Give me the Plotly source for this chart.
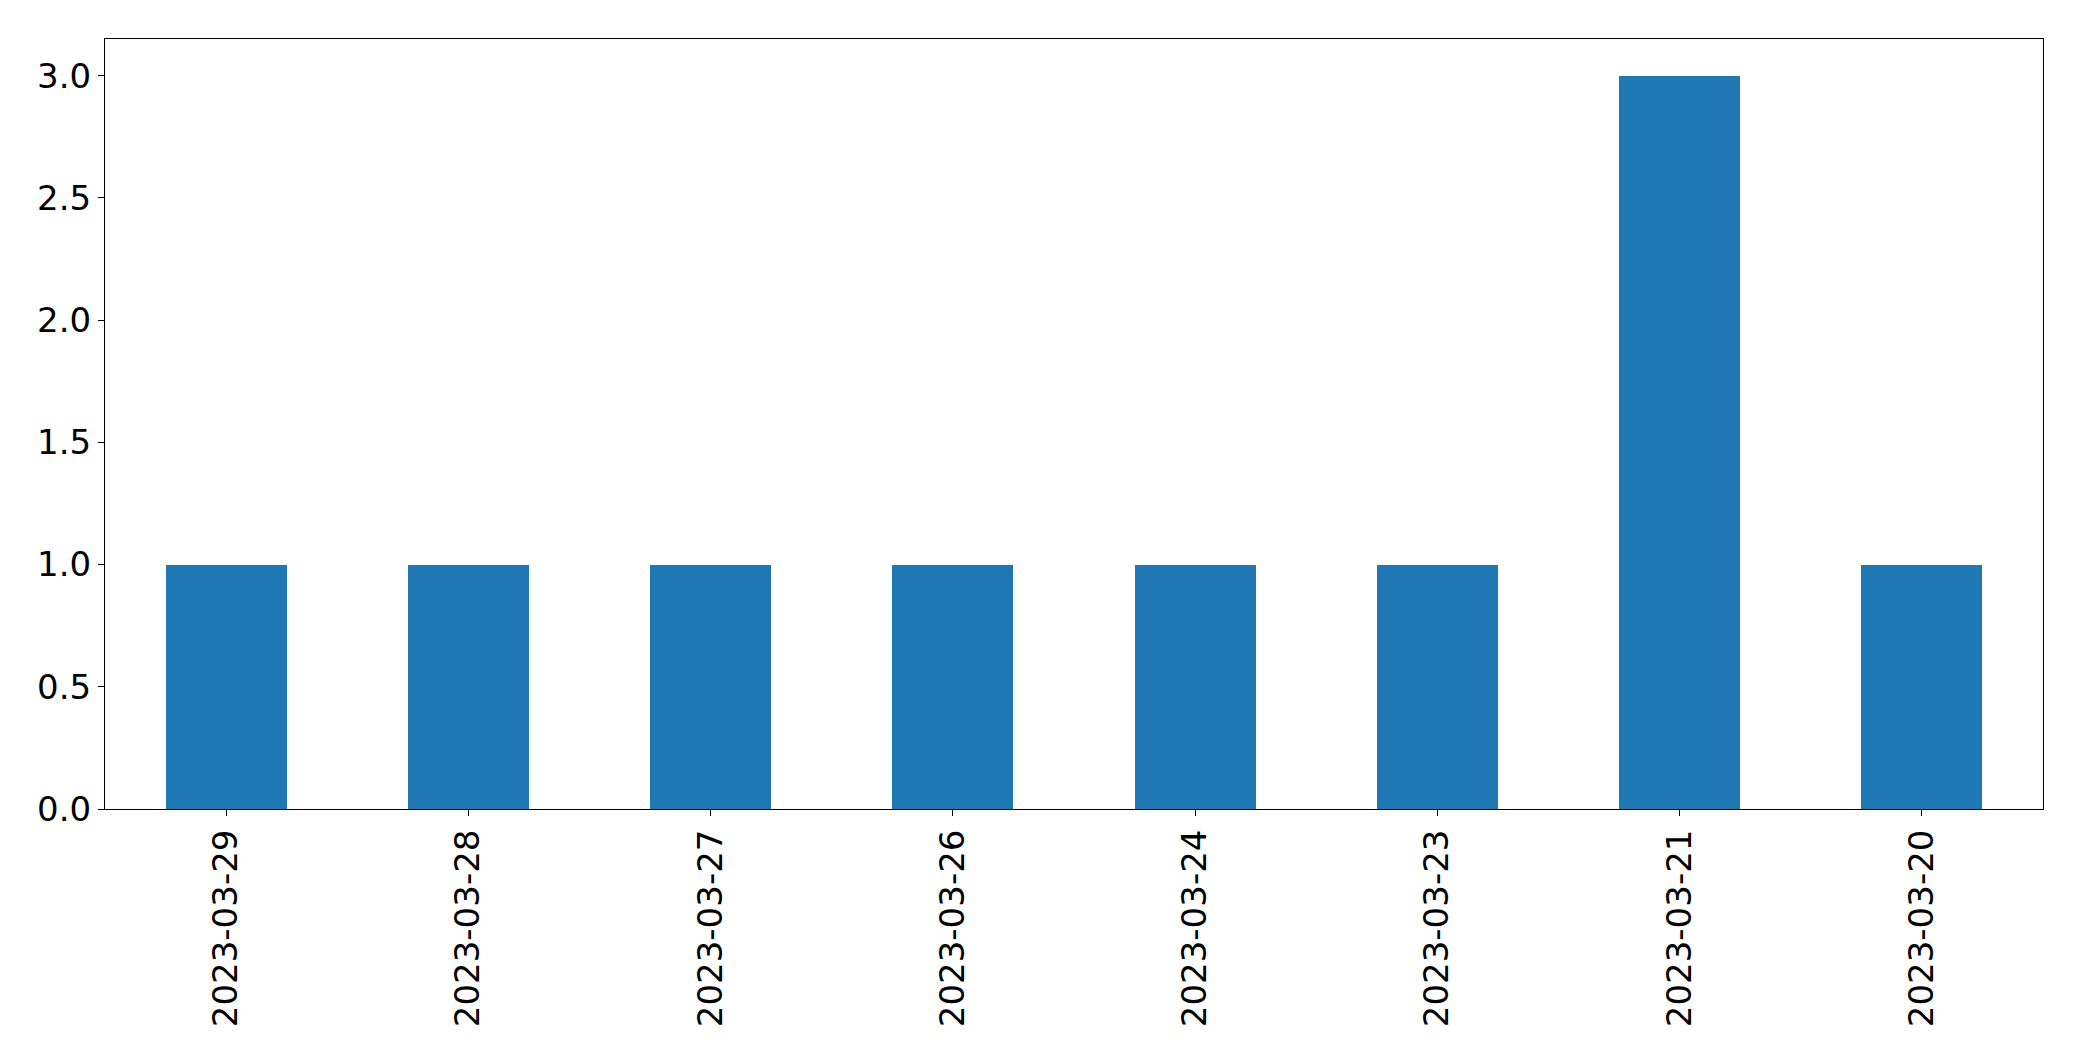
import plotly.graph_objects as go

dates = ["2023-03-29", "2023-03-28", "2023-03-27", "2023-03-26",
         "2023-03-24", "2023-03-23", "2023-03-21", "2023-03-20"]
counts = [1, 1, 1, 1, 1, 1, 3, 1]
y_ticks = [0.0, 0.5, 1.0, 1.5, 2.0, 2.5, 3.0]
y_tick_labels = ["0.0", "0.5", "1.0", "1.5", "2.0", "2.5", "3.0"]

fig = go.Figure(go.Bar(
    x=list(range(len(dates))), y=counts, width=0.5,
    marker=dict(color="#1f77b4", line=dict(width=0)),
))

font = dict(family="DejaVu Sans", size=34, color="black")
fig.update_layout(
    width=2082, height=1061,
    margin=dict(l=97, r=47, t=31, b=260),
    paper_bgcolor="white", plot_bgcolor="white",
    showlegend=False, bargap=0,
    font=font,
)
fig.update_xaxes(
    range=[-0.5, 7.5], tickmode="array",
    tickvals=list(range(len(dates))), ticktext=dates,
    tickangle=-90, ticks="outside", ticklen=6, tickwidth=1, tickcolor="black",
    showline=True, linecolor="black", linewidth=1, mirror=True,
    showgrid=False, zeroline=False, tickfont=font,
)
fig.update_yaxes(
    range=[0, 3.15], tickmode="array", tickvals=y_ticks, ticktext=y_tick_labels,
    ticks="outside", ticklen=6, tickwidth=1, tickcolor="black",
    showline=True, linecolor="black", linewidth=1, mirror=True,
    showgrid=False, zeroline=False, tickfont=font,
)
fig.write_html("out.html")
